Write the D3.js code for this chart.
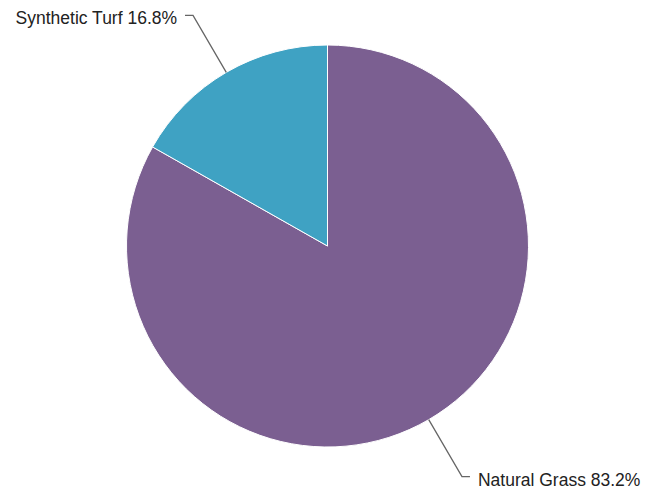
<!DOCTYPE html>
<html>
<head>
<meta charset="utf-8">
<script src="https://cdn.jsdelivr.net/npm/d3@7"></script>
<style>
  body { margin: 0; background: #fff; }
  text { font-family: "Liberation Sans", Arial, Helvetica, sans-serif; font-size: 17.5px; fill: #222; }
</style>
</head>
<body>
<svg id="chart"></svg>
<script>
// chart data
const categories = ['Natural Grass', 'Synthetic Turf'];
const shares = [83.2, 16.8];
const colors = ['#7b5f91', '#3fa2c3'];

const width = 649, height = 491;
const cx = 327.5, cy = 246;
const radius = 201;

const svg = d3.select('#chart')
    .attr('width', width)
    .attr('height', height);

const g = svg.append('g')
    .attr('transform', 'translate(' + cx + ',' + cy + ')');

const pie = d3.pie().sort(null).value(d => d.value);
const arcs = pie(categories.map((c, i) => ({ name: c, value: shares[i], color: colors[i] })));

const arc = d3.arc().innerRadius(0).outerRadius(radius);
const elbowArc = d3.arc().innerRadius(267).outerRadius(267);
const edgeArc = d3.arc().innerRadius(radius).outerRadius(radius);

g.selectAll('path.slice')
    .data(arcs)
    .enter().append('path')
    .attr('class', 'slice')
    .attr('d', arc)
    .attr('fill', d => d.data.color)
    .attr('stroke', '#fff')
    .attr('stroke-width', 1);

// leader lines + labels
arcs.forEach(d => {
  const mid = (d.startAngle + d.endAngle) / 2;
  const side = Math.sin(mid) >= 0 ? 1 : -1;
  const p0 = edgeArc.centroid(d);
  const p1 = elbowArc.centroid(d);
  const p2 = [p1[0] + side * 8, p1[1]];
  g.append('polyline')
      .attr('points', [p0, p1, p2].map(p => p.join(',')).join(' '))
      .attr('fill', 'none')
      .attr('stroke', '#666')
      .attr('stroke-width', 1.3);
  g.append('text')
      .attr('x', p2[0] + side * 8)
      .attr('y', p2[1] + 9)
      .attr('text-anchor', side > 0 ? 'start' : 'end')
      .text(d.data.name + ' ' + d.data.value.toFixed(1) + '%');
});
</script>
</body>
</html>
